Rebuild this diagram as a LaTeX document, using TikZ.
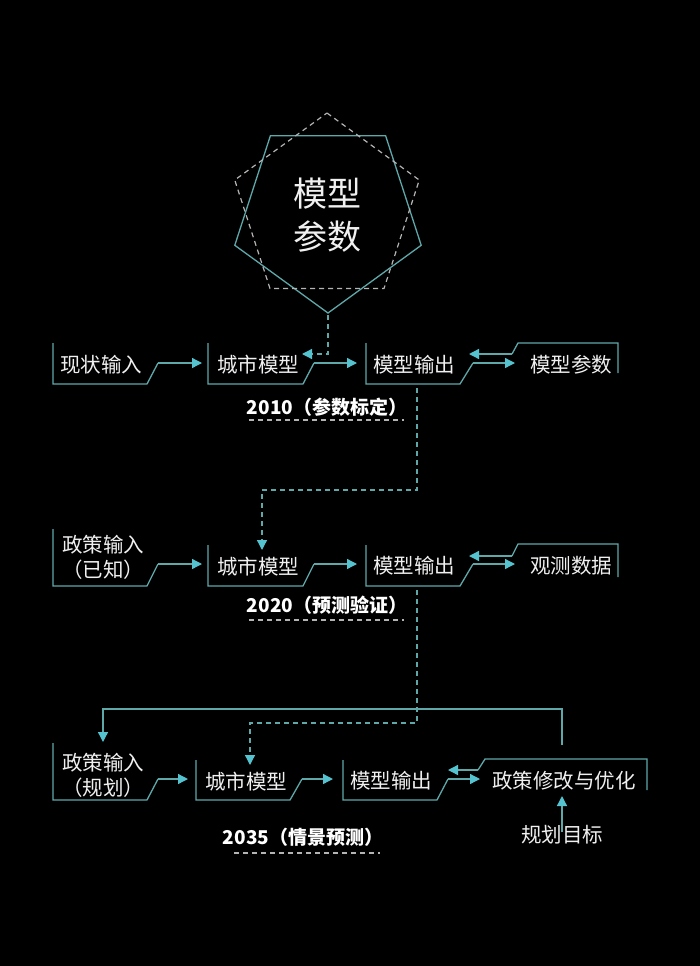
\documentclass[tikz,border=0pt]{standalone}
\usepackage{fontspec}
\setmainfont{Noto Sans CJK SC}
\usetikzlibrary{arrows,arrows.meta}
\usetikzlibrary{calc}
\definecolor{linecol}{HTML}{5FA8AA}
\definecolor{tipcol}{HTML}{55C3CF}
\definecolor{txtcol}{HTML}{F0F0F0}
\definecolor{greycol}{HTML}{B4B4B4}
\tikzset{>={Triangle[length=10pt,width=10pt,color=tipcol]}}
\tikzstyle{wire} = [line width = 1.3, color = linecol]
\tikzstyle{link} = [wire, ->]
\tikzstyle{dlink} = [%
					line width = 1.3,
					color = linecol,
					dash pattern = on 5pt off 4pt,
					->
					]
\tikzstyle{txt} = [text = txtcol, inner sep = 0, font = \fontsize{20.5}{25}\selectfont, align = center]
\tikzstyle{year} = [text = white, inner sep = 0, font = \fontsize{19}{22}\selectfont\bfseries]
\tikzstyle{uline} = [line width = 1.2, color = greycol, dash pattern = on 5pt off 4pt]

\begin{document}
\begin{tikzpicture}[x=1pt,y=-1pt]
  \def\rp{98} % pentagon radius
  \fill[black] (0,0) rectangle (700,966);
  \useasboundingbox (0,0) rectangle (700,966);

  % PENTAGONS
  \begin{scope}[shift={(328,215)}]
    \draw[wire] (90:\rp) foreach \k in {1,...,4}{ -- (90+72*\k:\rp)} -- cycle;
    \coordinate (pent-s) at (90:\rp);
  \end{scope}
  \begin{scope}[shift={(327,210)}]
    \draw[line width=1.2,greycol,dash pattern=on 5pt off 4pt]
      (270:\rp-1) foreach \k in {1,...,4}{ -- (270+72*\k:\rp-1)} -- cycle;
  \end{scope}
  \node[txt, font=\fontsize{34}{43}\selectfont] (par) at (327,215) {模型\\参数};

  % 2010
  \node[txt] (in1)   at (101,365) {现状输入};
  \node[txt] (city1) at (258,365) {城市模型};
  \node[txt] (out1)  at (414,365) {模型输出};
  \node[txt] (par1)  at (571,365) {模型参数};
  \coordinate (city1-i) at (202,363);
  \coordinate (out1-i)  at (357,363);
  \coordinate (par1-i)  at (515,363);
  \coordinate (out1-r)  at (469,354);
  \coordinate (city1-r) at (302,354);
  \draw[wire] (53,343) -- (53,384) -- (147,384) -- (158,363) coordinate (in1-o);
  \draw[wire] (208,343) -- (208,384) -- (303,384) -- (314,363) coordinate (city1-o);
  \draw[wire] (366,343) -- (366,384) -- (460,384) -- (473,363) coordinate (out1-o);
  \draw[wire] (618,373) -- (618,343) -- (518,343) -- (512,354) coordinate (par1-o);
  \draw[link] (in1-o) -- (city1-i);
  \draw[link] (city1-o) -- (out1-i);
  \draw[link] (out1-o) -- (par1-i);
  \draw[link] (par1-o) -- (out1-r);
  \draw[dlink] ([yshift=-2pt]pent-s) |- (city1-r);
  \node[year] (y1) at (327,407) {2010（参数标定）};
  \draw[uline] (249,420) -- (404,420);

  % 2020
  \node[txt] (in2)   at (103,557) {政策输入\\（已知）};
  \node[txt] (city2) at (258,567) {城市模型};
  \node[txt] (out2)  at (414,566) {模型输出};
  \node[txt] (obs2)  at (571,566) {观测数据};
  \coordinate (city2-i) at (202,564);
  \coordinate (out2-i)  at (357,564);
  \coordinate (obs2-i)  at (515,564);
  \coordinate (out2-r)  at (469,556);
  \coordinate (city2-t) at (262,550);
  \draw[wire] (53,529) -- (53,586) -- (147,586) -- (158,564) coordinate (in2-o);
  \draw[wire] (208,545) -- (208,586) -- (303,586) -- (314,564) coordinate (city2-o);
  \draw[wire] (366,545) -- (366,586) -- (460,586) -- (473,564) coordinate (out2-o);
  \draw[wire] (618,577) -- (618,544) -- (518,544) -- (512,556) coordinate (obs2-o);
  \draw[link] (in2-o) -- (city2-i);
  \draw[link] (city2-o) -- (out2-i);
  \draw[link] (out2-o) -- (obs2-i);
  \draw[link] (obs2-o) -- (out2-r);
  \draw[dlink] (417,388) coordinate (out1-s) -- (417,490) -| (city2-t);
  \node[year] (y2) at (327,605) {2020（预测验证）};
  \draw[uline] (249,620) -- (404,620);

  % 2035
  \node[txt] (in3)   at (103,775) {政策输入\\（规划）};
  \node[txt] (city3) at (246,782) {城市模型};
  \node[txt] (out3)  at (391,781) {模型输出};
  \node[txt] (pol3)  at (564,781) {政策修改与优化};
  \node[txt] (goal)  at (562,835) {规划目标};
  \coordinate (city3-i) at (188,779);
  \coordinate (out3-i)  at (333,779);
  \coordinate (pol3-i)  at (480,779);
  \coordinate (out3-r)  at (448,770);
  \coordinate (city3-t) at (250,765);
  \coordinate (in3-t)   at (103,742);
  \coordinate (pol3-t)  at (562,745);
  \coordinate (pol3-b)  at (562,796);
  \draw[wire] (53,743) -- (53,800) -- (147,800) -- (158,779) coordinate (in3-o);
  \draw[wire] (196,760) -- (196,800) -- (290,800) -- (302,779) coordinate (city3-o);
  \draw[wire] (343,760) -- (343,800) -- (437,800) -- (448,779) coordinate (out3-o);
  \draw[wire] (647,790) -- (647,759) -- (485,759) -- (478,770) coordinate (pol3-o);
  \draw[link] (in3-o) -- (city3-i);
  \draw[link] (city3-o) -- (out3-i);
  \draw[link] (out3-o) -- (pol3-i);
  \draw[link] (pol3-o) -- (out3-r);
  \draw[link] (pol3-t) -- (562,709) -| (in3-t);
  \draw[link] ([yshift=-7pt]goal.north) -- (pol3-b);
  \draw[dlink] (417,590) -- (417,723) -| (city3-t);
  \node[year] (y3) at (303,837) {2035（情景预测）};
  \draw[uline] (234,853) -- (380,853);
\end{tikzpicture}
\end{document}
